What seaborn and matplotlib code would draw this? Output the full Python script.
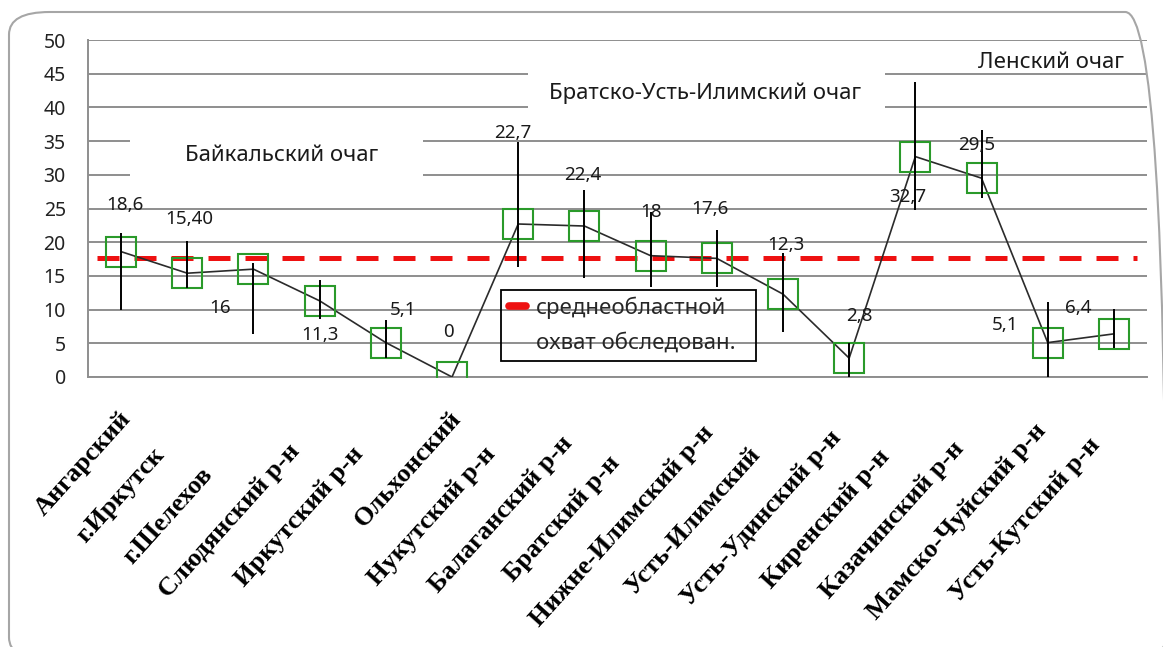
import numpy as np
import pandas as pd
import matplotlib
matplotlib.use("Agg")
import matplotlib.pyplot as plt
import seaborn as sns
from matplotlib.patches import FancyBboxPatch, Rectangle
from matplotlib.lines import Line2D

# data
districts = ["Ангарский", "г.Иркутск", "г.Шелехов", "Слюдянский р-н", "Иркутский р-н",
             "Ольхонский", "Нукутский р-н", "Балаганский р-н", "Братский р-н",
             "Нижне-Илимский р-н", "Усть-Илимский", "Усть-Удинский р-н", "Киренский р-н",
             "Казачинский р-н", "Мамско-Чуйский р-н", "Усть-Кутский р-н"]
coverage = [18.6, 15.4, 16, 11.3, 5.1, 0, 22.7, 22.4, 18, 17.6, 12.3, 2.8, 32.7, 29.5, 5.1, 6.4]
value_labels = ["18,6", "15,40", "16", "11,3", "5,1", "0", "22,7", "22,4", "18", "17,6",
                "12,3", "2,8", "32,7", "29,5", "5,1", "6,4"]
err_low = [9.9, 13.2, 6.4, 8.6, 2.8, 0, 16.3, 14.7, 13.4, 13.4, 6.7, 0, 24.8, 26.6, 0, 4.3]
err_high = [21.4, 20.2, 16.9, 14.4, 8.5, 0, 34.9, 27.7, 24.5, 21.8, 18.4, 5.0, 43.8, 36.6, 11.1, 10.1]
regional_mean = 17.6
foci = ["Байкальский очаг", "Братско-Усть-Илимский очаг", "Ленский очаг"]
legend_text = ["среднеобластной", "охват обследован."]

# layout: value label offsets from the point (px), shift of x labels along text (px)
label_off = [(4, -47), (2, -54), (-33, 39), (0, 34), (17, -33), (-4, -45), (-5, -91), (-2, -51),
             (1, -44), (-7, -49), (3, -49), (10, -42), (-8, 40), (-5, -33), (-43, -18), (-36, -26)]
label_shift = [0, 49, 75, 44, 48, 0, 48, 33, 60, 19, 49, 26, 52, 41, 17, 35]

df = pd.DataFrame({"pos": np.arange(len(districts)), "coverage": coverage})

sns.set_theme(style="white")
plt.rcParams["font.family"] = ["Noto Sans", "DejaVu Sans"]

W, H = 1163, 647
fig = plt.figure(figsize=(W / 100, H / 100), dpi=100)
fig.patch.set_facecolor("white")

# rounded outer frame
frame = FancyBboxPatch((9 / W, 1 - 660 / H), 1157 / W, 648 / H,
                       boxstyle="round,pad=0,rounding_size=0.035",
                       transform=fig.transFigure, fc="none", ec="#a6a6a6", lw=1.5)
fig.patches.append(frame)

ax = fig.add_axes([88 / W, 1 - 377 / H, 1059 / W, 337 / H])
ax.set_xlim(-0.5, len(districts) - 0.5)
ax.set_ylim(0, 50)
ax.set_axisbelow(True)

grid_c = "#8e8e8e"
ax.set_yticks(np.arange(0, 51, 5))
ax.yaxis.grid(True, color=grid_c, lw=1.4)
ax.tick_params(axis="y", length=6, width=1.2, color=grid_c, labelsize=14, labelcolor="#222222", pad=10)
ax.set_xticks([])
ax.set_xticks(np.arange(-0.5, len(districts), 1), minor=True)
ax.tick_params(axis="x", which="minor", length=6, width=1.2, color=grid_c, direction="out")
for s in ["top", "right"]:
    ax.spines[s].set_visible(False)
for s in ["left", "bottom"]:
    ax.spines[s].set_color(grid_c)
    ax.spines[s].set_linewidth(1.4)

# white boxes behind the foci captions (they hide the grid lines)
ax.add_patch(Rectangle((0.14, 28), 4.42, 9, fc="white", ec="none", zorder=1))
ax.add_patch(Rectangle((6.15, 39), 5.39, 7, fc="white", ec="none", zorder=1))
ax.text(2.43, 32.9, foci[0], ha="center", va="center", fontsize=16, color="#1a1a1a", zorder=2)
ax.text(8.82, 42.1, foci[1], ha="center", va="center", fontsize=16, color="#1a1a1a", zorder=2)
ax.text(14.05, 46.7, foci[2], ha="center", va="center", fontsize=16, color="#1a1a1a", zorder=2)

# mean line
ax.hlines(regional_mean, -0.37, 15.35, color="#ee1111", lw=3.6, linestyles=(0, (4.4, 3)), zorder=3)

# main series
sns.lineplot(data=df, x="pos", y="coverage", ax=ax, color="#2b2b2b", lw=1.2,
             marker="s", markersize=21, markerfacecolor="none",
             markeredgecolor="#2a9a2a", markeredgewidth=1.5, zorder=4)
ax.vlines(df["pos"], err_low, err_high, color="black", lw=1.4, zorder=5)
ax.set_xlabel("")
ax.set_ylabel("")

for i, (txt, off) in enumerate(zip(value_labels, label_off)):
    ax.annotate(txt, xy=(i, coverage[i]), xytext=(off[0] * 0.72, -off[1] * 0.72),
                textcoords="offset points", ha="center", va="center",
                fontsize=13.5, color="#1a1a1a", zorder=6)

# rotated category labels
ang = 48
ux, uy = -np.cos(np.radians(ang)), np.sin(np.radians(ang))
for i, (name, s) in enumerate(zip(districts, label_shift)):
    ox, oy = -3 + s * ux, 30 + s * uy
    ax.annotate(name, xy=(i, 0), xytext=(ox * 0.72, -oy * 0.72), textcoords="offset points",
                rotation=ang, rotation_mode="anchor", ha="right", va="top",
                fontsize=19, fontweight="bold", family="Liberation Serif",
                color="black", annotation_clip=False)

# legend: box drawn separately so the text sits like in the original
ax.add_patch(Rectangle((0.390, 0.0475), 0.241, 0.2105, transform=ax.transAxes,
                       fc="none", ec="black", lw=1.3, zorder=7))
handles = [Line2D([], [], color="#ee1111", lw=5.5), Line2D([], [], color="none")]
leg = ax.legend(handles, legend_text, loc="upper left", bbox_to_anchor=(0.398, 0.238),
                frameon=False, fontsize=16, handlelength=0.75, handletextpad=0.45,
                borderpad=0.0, labelspacing=0.62, borderaxespad=0)
leg.set_zorder(7)

fig.savefig("out.png", dpi=100)
